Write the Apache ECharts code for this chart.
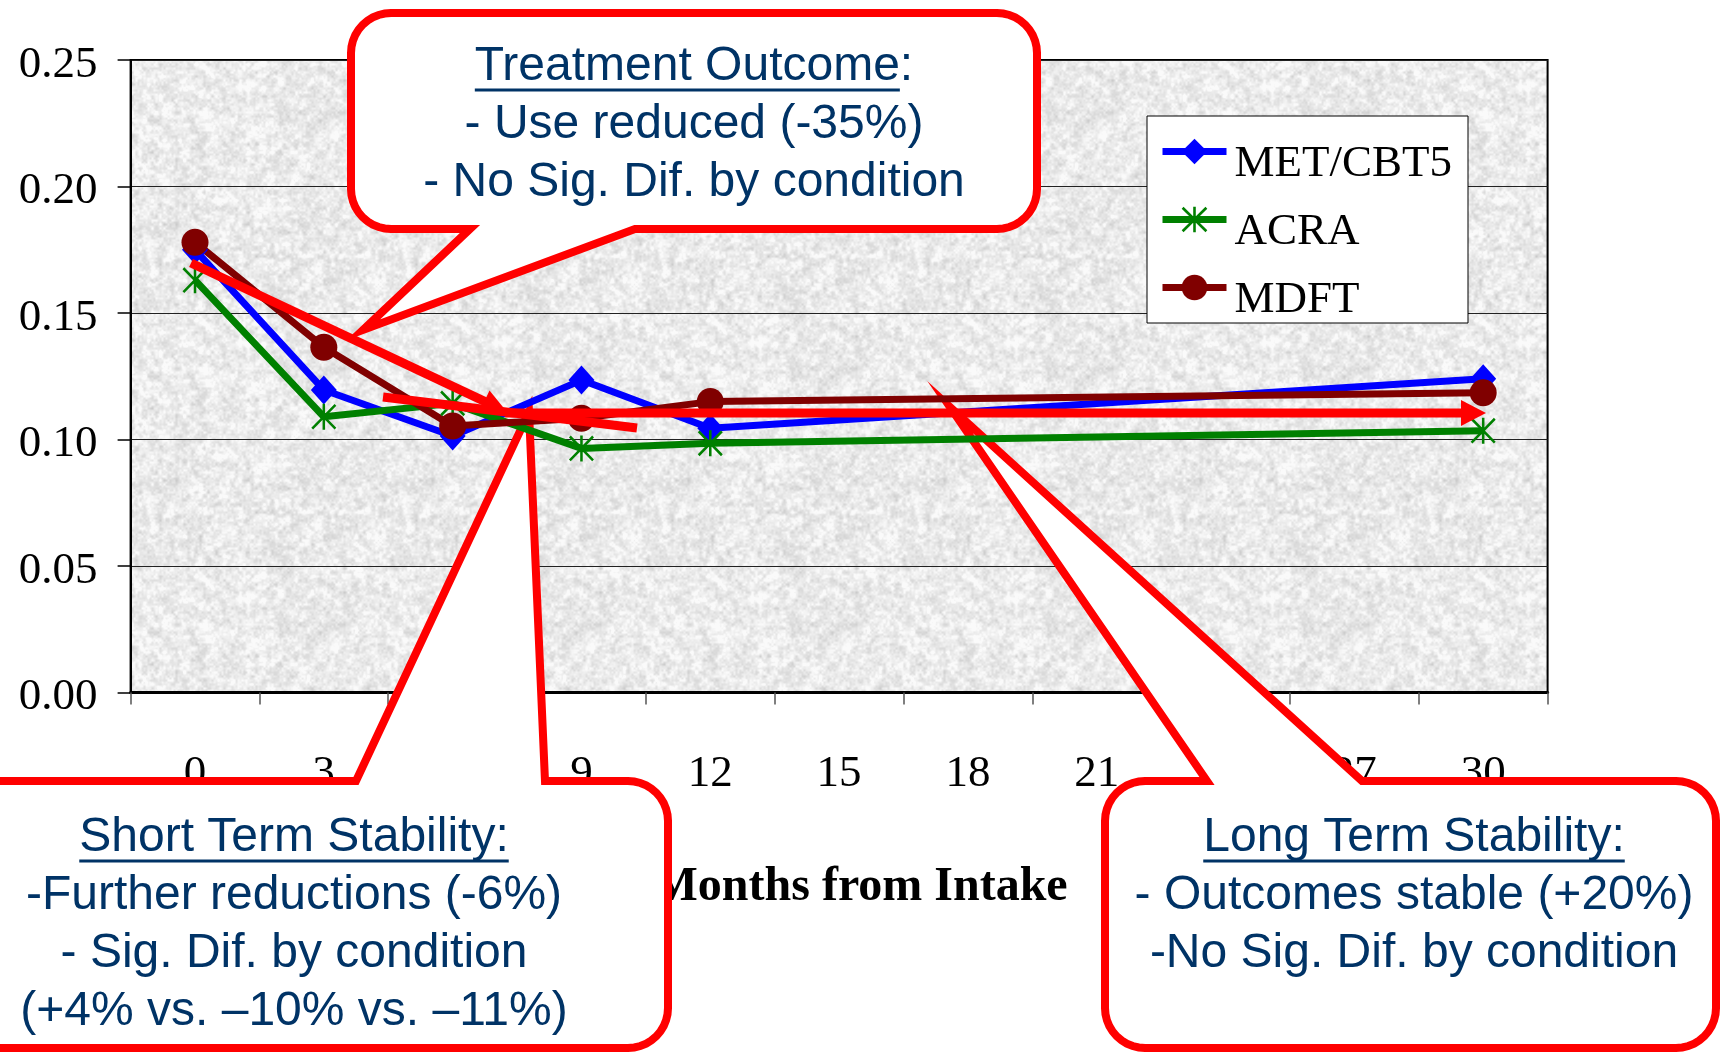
<!DOCTYPE html>
<html><head><meta charset="utf-8">
<script src="https://cdn.jsdelivr.net/npm/echarts@6/dist/echarts.min.js"></script>
<style>html,body{margin:0;padding:0;background:#fff}#chart{width:1721px;height:1053px}</style>
</head><body><div id="chart"></div>
<script>
// ---- data ----
const months = ['0','3','6','9','12','15','18','21','24','27','30'];
const seriesNames = ['MET/CBT5','ACRA','MDFT'];
const metCbt5 = [0.175, 0.1196, 0.1014, 0.1235, 0.1045, null, null, null, null, null, 0.124];
const acra    = [0.163, 0.109, 0.1143, 0.0965, 0.0985, null, null, null, null, null, 0.1035];
const mdft    = [0.178, 0.1365, 0.1054, 0.1084, 0.115, null, null, null, null, null, 0.1185];
const yMin = 0, yMax = 0.25, yStep = 0.05;
const xAxisTitle = 'Months from Intake';
const calloutTopText = ['Treatment Outcome:', '- Use reduced (-35%)', '- No Sig. Dif. by condition'];
const calloutLeftText = ['Short Term Stability:', '-Further reductions (-6%)', '- Sig. Dif. by condition', '(+4% vs. \u201310% vs. \u201311%)'];
const calloutRightText = ['Long Term Stability:', '- Outcomes stable (+20%)', '-No Sig. Dif. by condition'];

// ---- styling helpers ----
const SERIF = '"Liberation Serif","Times New Roman",serif';
const SANS = '"Liberation Sans",Arial,sans-serif';
const NAVY = '#003366';
const RED = '#ff0000';

function makeTexture() {
  const N = 256, c = document.createElement('canvas');
  c.width = c.height = N;
  const ctx = c.getContext('2d'), img = ctx.createImageData(N, N);
  function h(x, y, p) {
    x = ((x % p) + p) % p; y = ((y % p) + p) % p;
    let n = Math.imul(x, 374761393) + Math.imul(y, 668265263);
    n = Math.imul(n ^ (n >>> 13), 1274126177);
    n = n ^ (n >>> 16);
    return (n >>> 0) / 4294967295;
  }
  function vn(x, y, cell) {
    const p = Math.round(N / cell), gx = x / cell, gy = y / cell, x0 = Math.floor(gx), y0 = Math.floor(gy);
    const fx = gx - x0, fy = gy - y0, sx = fx * fx * (3 - 2 * fx), sy = fy * fy * (3 - 2 * fy);
    const a = h(x0, y0, p), b = h(x0 + 1, y0, p), c2 = h(x0, y0 + 1, p), d = h(x0 + 1, y0 + 1, p);
    return (a * (1 - sx) + b * sx) * (1 - sy) + (c2 * (1 - sx) + d * sx) * sy;
  }
  for (let y = 0; y < N; y++) for (let x = 0; x < N; x++) {
    const v = 0.3 * vn(x, y, 8) + 0.4 * vn(x, y, 4) + 0.3 * vn(x, y, 2);
    let g = 235 + (v - 0.5) * 66;
    g = Math.max(198, Math.min(250, g));
    const i = (y * N + x) * 4;
    img.data[i] = img.data[i + 1] = img.data[i + 2] = g; img.data[i + 3] = 255;
  }
  ctx.putImageData(img, 0, 0);
  return c;
}

function barPoly(ax, ay, bx, by, w) {
  const dx = bx - ax, dy = by - ay, L = Math.hypot(dx, dy), nx = -dy / L * w, ny = dx / L * w;
  return 'M' + (ax + nx) + ' ' + (ay + ny) + 'L' + (bx + nx) + ' ' + (by + ny) + 'L' + (bx - nx) + ' ' + (by - ny) + 'L' + (ax - nx) + ' ' + (ay - ny) + 'Z';
}
const starSymbol = 'path://' + barPoly(12, 0, 12, 24, 1.2) + barPoly(1, 1, 23, 23, 1.2) + barPoly(1, 23, 23, 1, 1.2);

// rounded-rectangle callout outline with a pointer, as polygon points
function calloutPoints(x1, y1, x2, y2, r, tail) {
  const pts = [];
  function corner(cx, cy, a0, a1) {
    for (let i = 0; i <= 10; i++) { const a = a0 + (a1 - a0) * i / 10; pts.push([cx + r * Math.cos(a), cy + r * Math.sin(a)]); }
  }
  const PI = Math.PI;
  corner(x1 + r, y1 + r, PI, 1.5 * PI);
  if (tail.edge === 'top') { pts.push([tail.a, y1], tail.tip, [tail.b, y1]); }
  corner(x2 - r, y1 + r, 1.5 * PI, 2 * PI);
  corner(x2 - r, y2 - r, 0, 0.5 * PI);
  if (tail.edge === 'bottom') { pts.push([tail.b, y2], tail.tip, [tail.a, y2]); }
  corner(x1 + r, y2 - r, 0.5 * PI, PI);
  return pts;
}

const measureCtx = document.createElement('canvas').getContext('2d');
function textWidth(t, font) { measureCtx.font = font; return measureCtx.measureText(t).width; }

const CALLOUT_FONT_SIZE = 48;
const CALLOUT_FONT = CALLOUT_FONT_SIZE + 'px ' + SANS;

function calloutTexts(lines, cx, baseline0, lineStep, underlineText) {
  const els = [];
  lines.forEach(function (t, i) {
    els.push({ type: 'text', z: 3, style: { text: t, x: cx, y: baseline0 + i * lineStep - 16, fill: NAVY, font: CALLOUT_FONT, align: 'center', verticalAlign: 'middle' } });
  });
  const full = textWidth(lines[0], CALLOUT_FONT);
  const ul = textWidth(underlineText, CALLOUT_FONT);
  const left = cx - full / 2;
  els.push({ type: 'line', z: 3, shape: { x1: left, y1: baseline0 + 7, x2: left + ul, y2: baseline0 + 7 }, style: { stroke: NAVY, lineWidth: 3 } });
  return els;
}

function arrow(x1, y1, x2, y2, w, headLen, headHalf) {
  const dx = x2 - x1, dy = y2 - y1, L = Math.hypot(dx, dy), ux = dx / L, uy = dy / L;
  const bx = x2 - ux * headLen, by = y2 - uy * headLen, nx = -uy, ny = ux;
  return [
    { type: 'line', z: 5, shape: { x1: x1, y1: y1, x2: bx + ux * 2, y2: by + uy * 2 }, style: { stroke: RED, lineWidth: w } },
    { type: 'polygon', z: 5, shape: { points: [[x2, y2], [bx + nx * headHalf, by + ny * headHalf], [bx - nx * headHalf, by - ny * headHalf]] }, style: { fill: RED } }
  ];
}

const calloutStyle = { fill: '#ffffff', stroke: RED, lineWidth: 8, lineJoin: 'miter', miterLimit: 20 };

const graphics = [].concat(
  [{ type: 'polygon', z: 1, shape: { points: calloutPoints(351, 13, 1037, 229, 40, { edge: 'bottom', a: 470, b: 635, tip: [363, 330] }) }, style: calloutStyle }],
  calloutTexts(calloutTopText, 694, 83, 58, 'Treatment Outcome'),
  [{ type: 'polygon', z: 1, shape: { points: calloutPoints(-60, 781, 668, 1048, 40, { edge: 'top', a: 356, b: 545, tip: [529, 412] }) }, style: calloutStyle }],
  calloutTexts(calloutLeftText, 294, 854, 58, calloutLeftText[0]),
  [{ type: 'polygon', z: 1, shape: { points: calloutPoints(1105, 781, 1716, 1048, 40, { edge: 'top', a: 1207, b: 1362, tip: [950, 407] }) }, style: calloutStyle }],
  calloutTexts(calloutRightText, 1414, 854, 58, calloutRightText[0]),
  arrow(191, 263, 507, 412, 9, 25, 12),
  [{ type: 'line', z: 5, shape: { x1: 383, y1: 397, x2: 637, y2: 428 }, style: { stroke: RED, lineWidth: 9 } }],
  arrow(505, 413, 1486, 413, 9, 25, 13)
);

const chart = echarts.init(document.getElementById('chart'), null, { renderer: 'canvas' });
chart.setOption({
  animation: false,
  backgroundColor: '#ffffff',
  grid: {
    left: 130.6, right: 173.4, top: 60, bottom: 360.4, containLabel: false,
    show: true, backgroundColor: { image: makeTexture(), repeat: 'repeat' },
    borderColor: '#000', borderWidth: 2
  },
  legend: {
    orient: 'vertical', left: 1147, top: 116, padding: [0, 16, 0, 12],
    itemWidth: 64, itemHeight: 32, itemGap: -3,
    backgroundColor: '#ffffff', borderColor: '#000', borderWidth: 1,
    lineStyle: { width: 7 },
    textStyle: {
      fontFamily: SERIF, fontSize: 45, color: '#000',
      rich: { t: { fontFamily: SERIF, fontSize: 45, color: '#000', lineHeight: 30, padding: [26, 0, 0, 3] } }
    },
    formatter: function (name) { return '{t|' + name + '}'; },
    data: seriesNames
  },
  xAxis: {
    type: 'category', data: months, boundaryGap: true,
    name: xAxisTitle, nameLocation: 'middle', nameGap: 171,
    nameTextStyle: { fontFamily: SERIF, fontWeight: 'bold', fontSize: 48, color: '#000', padding: [0, 0, 0, 42] },
    axisLine: { show: true, lineStyle: { color: '#000', width: 3 } },
    axisTick: { show: true, alignWithLabel: false, length: 12, lineStyle: { color: '#555', width: 1.5 } },
    axisLabel: { interval: 0, margin: 59, fontFamily: SERIF, fontSize: 45, color: '#000' },
    splitLine: { show: false }
  },
  yAxis: {
    type: 'value', min: yMin, max: yMax, interval: yStep,
    axisLine: { show: true, lineStyle: { color: '#000', width: 2 } },
    axisTick: { show: true, length: 13, lineStyle: { color: '#000', width: 1.5 } },
    axisLabel: {
      margin: 33, fontFamily: SERIF, fontSize: 45, color: '#000',
      formatter: function (v) { return '{v|' + v.toFixed(2) + '}'; },
      rich: { v: { fontFamily: SERIF, fontSize: 45, color: '#000', padding: [10, 0, 0, 0] } }
    },
    splitLine: { show: true, lineStyle: { color: '#222', width: 1.2 } }
  },
  series: [
    { name: seriesNames[0], type: 'line', data: metCbt5, connectNulls: true, symbol: 'diamond', symbolSize: [26, 29],
      lineStyle: { color: '#0000ff', width: 7 }, itemStyle: { color: '#0000ff', borderWidth: 0 }, emphasis: { disabled: true } },
    { name: seriesNames[1], type: 'line', data: acra, connectNulls: true, symbol: starSymbol, symbolSize: [25, 26],
      lineStyle: { color: '#008000', width: 7 }, itemStyle: { color: '#008000', borderWidth: 0 }, emphasis: { disabled: true } },
    { name: seriesNames[2], type: 'line', data: mdft, connectNulls: true, symbol: 'circle', symbolSize: 27,
      lineStyle: { color: '#800000', width: 7 }, itemStyle: { color: '#800000', borderWidth: 0 }, emphasis: { disabled: true } }
  ],
  graphic: { elements: graphics }
});
</script></body></html>
